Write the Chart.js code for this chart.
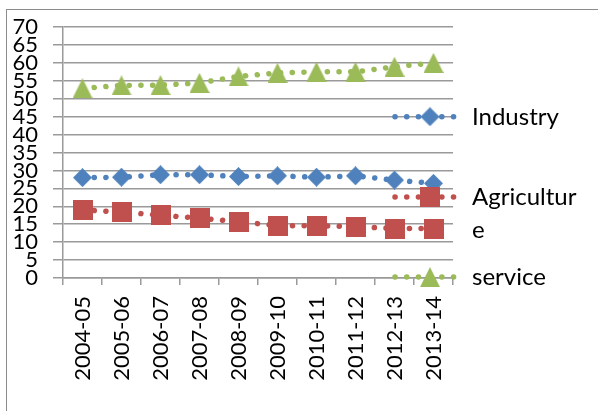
<!DOCTYPE html>
<html>
<head>
<meta charset="utf-8">
<script src="https://cdn.jsdelivr.net/npm/chart.js@4.4.0/dist/chart.umd.min.js"></script>
<style>
  html, body { margin: 0; padding: 0; background: #fff; overflow: hidden; }
  #frame {
    position: absolute; left: 6px; top: 9px; width: 800px; height: 600px;
    border: 1.5px solid #8c8c8c; box-sizing: border-box;
  }
  #chart { position: absolute; left: 0; top: 0; }
</style>
</head>
<body>
<div id="frame"></div>
<canvas id="chart" width="598" height="411"></canvas>
<script>
// Sector shares (%) by year
const categories = ['2004-05', '2005-06', '2006-07', '2007-08', '2008-09',
                    '2009-10', '2010-11', '2011-12', '2012-13', '2013-14'];
const industry    = [28.0, 28.1, 28.8, 28.8, 28.3, 28.5, 28.1, 28.5, 27.3, 26.4];
const agriculture = [19.0, 18.4, 17.5, 16.7, 15.7, 14.6, 14.6, 14.3, 13.8, 13.8];
const service     = [52.9, 53.7, 53.8, 54.4, 56.2, 57.2, 57.5, 57.5, 58.9, 60.0];
const yTicks = [0, 5, 10, 15, 20, 25, 30, 35, 40, 45, 50, 55, 60, 65, 70];

const FONT = 'Lato';
const GRID = '#9a9a9a';

// Marker sprites, centred on their bounding box
function marker(shape, w, h, color) {
  const c = document.createElement('canvas');
  c.width = w; c.height = h;
  const g = c.getContext('2d');
  g.fillStyle = color;
  g.beginPath();
  if (shape === 'diamond') {
    g.moveTo(w / 2, 0); g.lineTo(w, h / 2); g.lineTo(w / 2, h); g.lineTo(0, h / 2);
  } else if (shape === 'triangle') {
    g.moveTo(w / 2, 0); g.lineTo(w, h); g.lineTo(0, h);
  } else {
    g.rect(0, 0, w, h);
  }
  g.closePath();
  g.fill();
  return c;
}

function series(label, data, color, sprite) {
  return {
    label, data,
    borderColor: color,
    backgroundColor: color,
    borderWidth: 5.5,
    borderDash: [0.1, 11.6],
    borderCapStyle: 'round',
    fill: false,
    tension: 0,
    pointStyle: sprite,
    pointRadius: 10,
    pointHoverRadius: 10
  };
}

// Legend on the right, drawn with each series' own line and marker
const sideLegend = {
  id: 'sideLegend',
  afterDraw(chart) {
    const ctx = chart.ctx;
    const x0 = 395, x1 = 457, xm = 430, xt = 472;
    const maxW = 110, lineGap = 33;
    ctx.save();
    ctx.font = '24px ' + FONT;
    chart.data.datasets.forEach((ds, i) => {
      const yc = 116.7 + i * 80.2;
      ctx.strokeStyle = ds.borderColor;
      ctx.lineWidth = ds.borderWidth;
      ctx.lineCap = 'round';
      ctx.setLineDash(ds.borderDash);
      ctx.beginPath();
      ctx.moveTo(x0, yc); ctx.lineTo(x1, yc);
      ctx.stroke();
      ctx.setLineDash([]);
      const img = ds.pointStyle;
      ctx.drawImage(img, xm - img.width / 2, yc - img.height / 2);
      // wrap the label by characters to the legend width
      const lines = [];
      let rest = ds.label;
      while (rest.length) {
        let n = rest.length;
        while (n > 1 && ctx.measureText(rest.slice(0, n)).width > maxW) n--;
        lines.push(rest.slice(0, n));
        rest = rest.slice(n);
      }
      ctx.fillStyle = '#000';
      ctx.textBaseline = 'alphabetic';
      ctx.textAlign = 'left';
      lines.forEach((t, k) => ctx.fillText(t, xt, yc + 8 + k * lineGap));
    });
    ctx.restore();
  }
};

function draw() {
  new Chart(document.getElementById('chart'), {
    type: 'line',
    data: {
      labels: categories,
      datasets: [
        series('Industry', industry, '#4F81BD', marker('diamond', 19, 19, '#4F81BD')),
        series('Agriculture', agriculture, '#C0504D', marker('square', 20, 20, '#C0504D')),
        series('service', service, '#9BBB59', marker('triangle', 20, 20, '#9BBB59'))
      ]
    },
    options: {
      responsive: false,
      animation: false,
      devicePixelRatio: 1,
      layout: { padding: { top: 27, right: 145, left: 0, bottom: 0 } },
      plugins: { legend: { display: false }, tooltip: { enabled: false } },
      scales: {
        x: {
          type: 'category',
          offset: true,
          grid: { offset: true, drawOnChartArea: false, drawTicks: true, tickLength: 7, color: GRID, lineWidth: 1.5 },
          border: { display: true, color: GRID, width: 1.5 },
          ticks: { minRotation: 90, maxRotation: 90, autoSkip: false, padding: 11, color: '#000',
                   font: { family: FONT, size: 22 } },
          afterFit(s) { s.height = 133; }
        },
        y: {
          min: 0, max: 70,
          afterBuildTicks(s) { s.ticks = yTicks.map(v => ({ value: v })); },
          grid: { color: GRID, lineWidth: 1.5, tickLength: 10 },
          border: { display: true, color: GRID, width: 1.5 },
          ticks: { autoSkip: false, padding: 15, color: '#000',
                   font: { family: FONT, size: 22, lineHeight: 1 } },
          afterFit(s) { s.width = 63; }
        }
      }
    },
    plugins: [sideLegend]
  });
}

if (document.fonts && document.fonts.load) {
  document.fonts.load('22px ' + FONT).then(draw, draw);
} else {
  draw();
}
</script>
</body>
</html>
